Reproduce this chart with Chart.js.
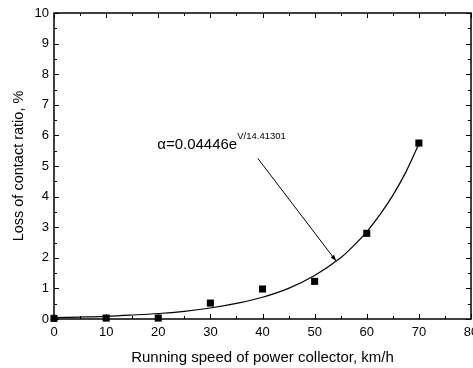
<!DOCTYPE html>
<html>
<head>
<meta charset="utf-8">
<script src="https://cdn.jsdelivr.net/npm/chart.js@4"></script>
<style>
  html, body { margin: 0; padding: 0; background: #fff; overflow: hidden; }
  #wrap { width: 476px; height: 368px; }
</style>
</head>
<body>
<div id="wrap"><canvas id="myChart"></canvas></div>
<script>
"use strict";
// measured points
var speeds = [0, 10, 20, 30, 40, 50, 60, 70];
var lossRatio = [0.02, 0.03, 0.03, 0.52, 0.98, 1.23, 2.8, 5.75];
// fitted curve
var fitSpeeds = [0, 5, 10, 15, 20, 25, 30, 35, 40, 45, 50, 55, 57.5, 60, 62.5, 65, 67.5, 70];
var fitLoss = [0.044, 0.063, 0.089, 0.13, 0.18, 0.25, 0.36, 0.51, 0.71, 1.0, 1.42, 2.0, 2.4, 2.85, 3.4, 4.04, 4.8, 5.72];
var fitLabel = "V/14.41301";

var FONT = "'Liberation Sans', Arial, sans-serif";

var pts = [];
for (var i = 0; i < speeds.length; i++) pts.push({ x: speeds[i], y: lossRatio[i] });
var fit = [];
for (var j = 0; j < fitSpeeds.length; j++) fit.push({ x: fitSpeeds[j], y: fitLoss[j] });

// inward ticks on all four sides + equation with arrow
var decor = {
    id: 'decor',
    afterDraw: function (chart) {
        var ctx = chart.ctx, xs = chart.scales.x, ys = chart.scales.y, a = chart.chartArea;
        ctx.save();
        ctx.strokeStyle = '#000';
        ctx.lineWidth = 1;
        ctx.beginPath();
        for (var v = 0; v <= 80; v += 5) {
            var px = Math.round(xs.getPixelForValue(v)) + 0.5;
            var len = (v % 10 === 0) ? 5 : 3;
            ctx.moveTo(px, a.bottom); ctx.lineTo(px, a.bottom - len);
            ctx.moveTo(px, a.top); ctx.lineTo(px, a.top + len);
        }
        for (var w = 0; w <= 10; w += 0.5) {
            var py = Math.round(ys.getPixelForValue(w)) + 0.5;
            var l2 = (w % 1 === 0) ? 5 : 3;
            ctx.moveTo(a.left, py); ctx.lineTo(a.left + l2, py);
            ctx.moveTo(a.right, py); ctx.lineTo(a.right - l2, py);
        }
        ctx.stroke();
        ctx.lineWidth = 1.5;
        ctx.strokeRect(a.left, a.top, a.right - a.left, a.bottom - a.top);
        ctx.lineWidth = 1;

        // equation
        var tx = xs.getPixelForValue(19.8), ty = ys.getPixelForValue(5.55);
        ctx.fillStyle = '#000';
        ctx.textBaseline = 'alphabetic';
        ctx.font = '15px ' + FONT;
        var main = '\u03b1=0.04446e';
        ctx.fillText(main, tx, ty);
        var mw = ctx.measureText(main).width;
        ctx.font = '9.5px ' + FONT;
        ctx.fillText(fitLabel, tx + mw, ty - 10);

        // arrow
        var x0 = xs.getPixelForValue(39.1), y0 = ys.getPixelForValue(5.25);
        var x1 = xs.getPixelForValue(54.1), y1 = ys.getPixelForValue(1.9);
        ctx.beginPath();
        ctx.moveTo(x0, y0); ctx.lineTo(x1, y1);
        ctx.stroke();
        var ang = Math.atan2(y1 - y0, x1 - x0), hl = 6, hw = 2.2;
        ctx.beginPath();
        ctx.moveTo(x1, y1);
        ctx.lineTo(x1 - hl * Math.cos(ang) + hw * Math.sin(ang), y1 - hl * Math.sin(ang) - hw * Math.cos(ang));
        ctx.lineTo(x1 - hl * Math.cos(ang) - hw * Math.sin(ang), y1 - hl * Math.sin(ang) + hw * Math.cos(ang));
        ctx.closePath();
        ctx.fill();
        ctx.restore();
    }
};

var ctx = document.getElementById('myChart').getContext('2d');
var chart = new Chart(ctx, {
    type: 'scatter',
    data: {
        datasets: [
            {
                label: 'measured',
                data: pts,
                pointStyle: 'rect',
                pointRadius: 5,
                pointBorderWidth: 0,
                backgroundColor: '#000',
                borderColor: '#000',
                showLine: false,
                clip: false
            },
            {
                label: 'fit',
                data: fit,
                showLine: true,
                pointRadius: 0,
                borderColor: '#000',
                borderWidth: 1.2,
                tension: 0.4,
                clip: false
            }
        ]
    },
    options: {
        responsive: true,
        maintainAspectRatio: false,
        animation: false,
        devicePixelRatio: 1,
        layout: { padding: { top: 13, right: 0, left: 0, bottom: 0 } },
        plugins: { legend: { display: false }, tooltip: { enabled: false } },
        scales: {
            x: {
                type: 'linear',
                min: 0, max: 80,
                grid: { display: false, drawTicks: false },
                border: { display: false },
                ticks: { stepSize: 10, padding: 6, color: '#000', font: { family: FONT, size: 13 }, maxRotation: 0 },
                title: { display: true, text: 'Running speed of power collector, km/h', color: '#000', font: { family: FONT, size: 15 }, padding: { top: 6, bottom: 1 } },
                afterFit: function (s) { s.height = 49; s.paddingLeft = 0; s.paddingRight = 0; }
            },
            y: {
                min: 0, max: 10,
                grid: { display: false, drawTicks: false },
                border: { display: false },
                ticks: { stepSize: 1, padding: 5, color: '#000', font: { family: FONT, size: 13 } },
                title: { display: true, text: 'Loss of contact ratio, %', color: '#000', font: { family: FONT, size: 14.5 }, padding: { top: 10, bottom: 6 } },
                afterFit: function (s) { s.width = 54; s.paddingTop = 0; s.paddingBottom = 0; }
            }
        }
    },
    plugins: [decor]
});
</script>
</body>
</html>
